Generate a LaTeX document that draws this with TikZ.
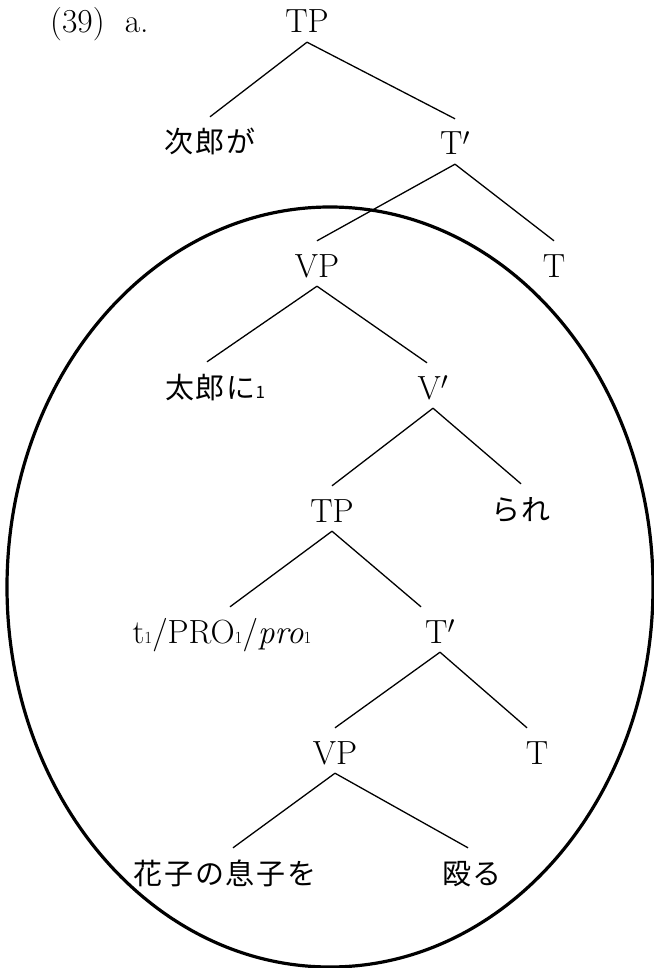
\documentclass[tikz,border=0pt]{standalone}
\usepackage{fontspec}
\newfontfamily\jp[LetterSpace=6]{Noto Sans CJK JP}
% small co-indexing numeral set on the baseline
\newcommand\coidx{{\fontsize{17}{17}\selectfont 1}}
\begin{document}
\begin{tikzpicture}[x=1pt,y=1pt,
  every node/.style={font=\fontsize{33.5}{40}\selectfont, inner xsep=0pt,
    inner ysep=9pt, text height=27pt, text depth=0pt, anchor=base},
  jtext/.style={font=\jp\fontsize{29}{34}\selectfont},
  exlabel/.style={anchor=base west, inner sep=0pt},
  branch/.style={line width=1.3pt},
  ring/.style={line width=3.2pt}]
\useasboundingbox (0,0) rectangle (653,-968);

% embedded clause enclosed by an oval
\draw[ring] (330,-587) ellipse [x radius=323pt, y radius=380pt];

\node[exlabel] (ex) at (50,-33) {(39)\hspace{10pt} a.};

% matrix clause
\node (TP0)  at (307,-33)  {TP};
\node[jtext] (jiro) at (210,-153) {次郎が};
\node (Tb1)  at (455,-155) {T$'$};
\node (VP1)  at (317,-277) {VP};
\node (T1)   at (554,-277) {T};
\node[jtext] (taro) at (215,-398) {太郎に\coidx};
\node (Vb)   at (433,-399) {V$'$};
\node[jtext] (rare) at (521,-520) {られ};

% embedded clause
\node (TP2)  at (332,-522) {TP};
\node (tpro) at (222,-643) {t\coidx/PRO\coidx/\textit{pro}\coidx};
\node (Tb2)  at (440,-643) {T$'$};
\node (VP2)  at (335,-764) {VP};
\node (T2)   at (537,-764) {T};
\node[jtext] (hanako) at (225,-884) {花子の息子を};
\node[jtext] (naguru) at (472,-884) {殴る};

% branches
\draw[branch] (TP0.south) -- (jiro.north);
\draw[branch] (TP0.south) -- (Tb1.north);
\draw[branch] (Tb1.south) -- (VP1.north);
\draw[branch] (Tb1.south) -- (T1.north);
\draw[branch] (VP1.south) -- ([xshift=-8pt]taro.north);
\draw[branch] (VP1.south) -- ([xshift=-6pt]Vb.north);
\draw[branch] (Vb.south) -- (TP2.north);
\draw[branch] (Vb.south) -- (rare.north);
\draw[branch] (TP2.south) -- ([xshift=8pt]tpro.north);
\draw[branch] (TP2.south) -- ([xshift=-19pt]Tb2.north);
\draw[branch] (Tb2.south) -- (VP2.north);
\draw[branch] (Tb2.south) -- ([xshift=-10pt]T2.north);
\draw[branch] (VP2.south) -- ([xshift=8pt]hanako.north);
\draw[branch] (VP2.south) -- ([xshift=-4pt]naguru.north);
\end{tikzpicture}
\end{document}
